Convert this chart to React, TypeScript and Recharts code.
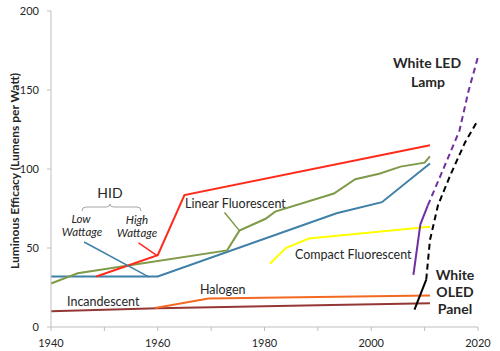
import { LineChart, Line, XAxis, YAxis, ReferenceLine } from "recharts";

// [year, lumens per watt]
const incandescent = [[1940, 10], [1960, 11.8], [1990, 13.8], [2011, 15]];
const halogen = [[1959.5, 12], [1969.5, 18], [1990, 19], [2011, 20]];
const hidHigh = [[1948.5, 32], [1960, 45.5], [1965, 83.5], [2011, 115]];
const hidLow = [[1940, 32], [1960, 32], [1993.5, 72], [2002, 79], [2011, 103.5]];
const linearFluor = [
  [1940, 27.5], [1945, 34], [1973, 48.5], [1975.3, 61], [1980.2, 68.5], [1982, 73],
  [1993, 84.5], [1997, 93.5], [2001.5, 97], [2005.5, 101.5], [2010, 104], [2011, 108],
];
const compactFluor = [[1981, 40], [1984, 50], [1988.3, 56], [2011, 63.5]];
const ledLamp = [[2007.9, 33], [2009.2, 65], [2010.6, 77]];
const ledForecast = [[2010.6, 77], [2013, 96], [2016.5, 124], [2018.2, 149], [2020, 171]];
const oledPanel = [[2008.1, 11], [2010.3, 30]];
const oledForecast = [[2010.3, 30], [2011, 55], [2012.5, 77], [2014.8, 96], [2017.6, 117], [2020, 131]];

const xTicks = [1940, 1950, 1960, 1970, 1980, 1990, 2000, 2010, 2020];
const yTicks = [0, 50, 100, 150, 200];

const toRows = (pts: number[][]) => pts.map(([year, value]) => ({ year, value }));

const FONT = "Lato, sans-serif";
const TEXT = "#262626";

export default function App() {
  const series = [
    { data: incandescent, color: "#953735" },
    { data: halogen, color: "#f26a21" },
    { data: hidLow, color: "#3f80a8" },
    { data: linearFluor, color: "#7f9a48" },
    { data: hidHigh, color: "#ff2a1a" },
    { data: compactFluor, color: "#ffff00" },
    { data: ledLamp, color: "#7030a0" },
    { data: oledPanel, color: "#000000" },
  ];
  const dashed = [
    { data: ledForecast, color: "#7030a0" },
    { data: oledForecast, color: "#000000" },
  ];

  return (
    <div style={{ position: "absolute", left: 0, top: 0, background: "#fff" }}>
      <LineChart width={500} height={351} margin={{ top: 11, right: 22, bottom: 0, left: 0 }}>
        <XAxis
          type="number"
          dataKey="year"
          domain={[1940, 2020]}
          ticks={xTicks}
          tickFormatter={(v) => (v % 20 === 0 ? String(v) : "")}
          height={24}
          stroke="#bfbfbf"
          tickSize={4}
          tickMargin={8}
          tick={{ fill: TEXT, fontSize: 11, fontFamily: FONT }}
          allowDuplicatedCategory={false}
        />
        <YAxis
          type="number"
          domain={[0, 200]}
          ticks={yTicks}
          width={51}
          stroke="#bfbfbf"
          tickSize={4}
          tickMargin={8}
          tick={{ fill: TEXT, fontSize: 11, fontFamily: FONT }}
        />
        {series.map((s, i) => (
          <Line
            key={i}
            data={toRows(s.data)}
            dataKey="value"
            type="linear"
            stroke={s.color}
            strokeWidth={2}
            dot={false}
            isAnimationActive={false}
          />
        ))}
        {dashed.map((s, i) => (
          <Line
            key={"d" + i}
            data={toRows(s.data)}
            dataKey="value"
            type="linear"
            stroke={s.color}
            strokeWidth={2}
            strokeDasharray="6 4"
            dot={false}
            isAnimationActive={false}
          />
        ))}
        {/* leader lines */}
        <ReferenceLine segment={[{ x: 1946.2, y: 53.8 }, { x: 1958.4, y: 31.6 }]} stroke="#3f80a8" strokeWidth={1.5} />
        <ReferenceLine segment={[{ x: 1956.4, y: 53.2 }, { x: 1959.8, y: 45.4 }]} stroke="#ff2a1a" strokeWidth={1.5} />
        <ReferenceLine segment={[{ x: 1972.5, y: 72.5 }, { x: 1975.3, y: 61 }]} stroke="#7f9a48" strokeWidth={1.5} />

        {/* annotations */}
        <text x={14} y={171} transform="rotate(-90 14 171)" textAnchor="middle" dominantBaseline="central"
          fontFamily={FONT} fontSize={12} fontWeight="bold" fill={TEXT}>
          Luminous Efficacy (Lumens per Watt)
        </text>
        <g fontFamily={FONT} fill={TEXT}>
          <text x={110} y={198} textAnchor="middle" fontSize={14}>HID</text>
          <path d="M82,211 Q82,207 86,207 L106,207 Q110,207 110,204 Q110,207 114,207 L137,207 Q141,207 141,211"
            fill="none" stroke="#a6a6a6" strokeWidth={1} />
          <text x={81} y={223} textAnchor="middle" fontSize={11.5} fontStyle="italic">Low</text>
          <text x={82} y={236} textAnchor="middle" fontSize={11.5} fontStyle="italic">Wattage</text>
          <text x={137} y={224} textAnchor="middle" fontSize={11.5} fontStyle="italic">High</text>
          <text x={137} y={237} textAnchor="middle" fontSize={11.5} fontStyle="italic">Wattage</text>
          <text x={185} y={208} fontSize={12.5}>Linear Fluorescent</text>
          <text x={295} y={259} fontSize={12.5}>Compact Fluorescent</text>
          <text x={200} y={294} fontSize={12.5}>Halogen</text>
          <text x={67} y={306} fontSize={12.5}>Incandescent</text>
          <g fontWeight="bold" fontSize={14} textAnchor="middle">
            <text x={427} y={68}>White LED</text>
            <text x={428} y={87}>Lamp</text>
            <text x={455} y={280}>White</text>
            <text x={455} y={297}>OLED</text>
            <text x={455} y={314}>Panel</text>
          </g>
        </g>
      </LineChart>
    </div>
  );
}
